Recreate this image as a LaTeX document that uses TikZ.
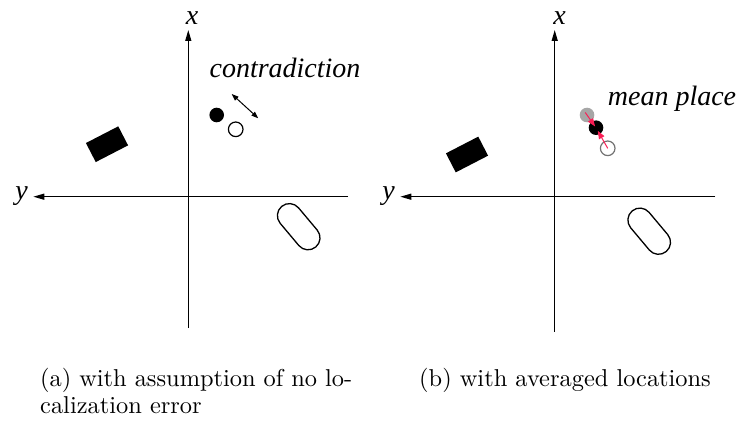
\documentclass[tikz,border=0pt]{standalone}
\usepackage{fontspec}
\newfontfamily\tmsi{Liberation Serif Italic}
\newfontfamily\capfont{lmroman10-regular.otf}
\usetikzlibrary{arrows.meta,shapes.misc,calc}
\definecolor{redpink}{RGB}{250,30,85}
\tikzset{
  axisline/.style={line width=1.3pt,-{Triangle[length=11pt,width=6pt]}},
  lbltext/.style={font=\tmsi\fontsize{28}{30}\selectfont,inner sep=0pt,anchor=base},
  dotnode/.style={circle,inner sep=0pt,minimum size=14.6pt},
  blkdot/.style={dotnode,fill=black},
  opndot/.style={dotnode,draw=black,line width=1.2pt,fill=white},
  blkbox/.style={rectangle,fill=black,inner sep=0pt,minimum width=36.4pt,minimum height=21.4pt,rotate=27.3},
  capsule/.style={rounded rectangle,draw,line width=1.3pt,inner sep=0pt,minimum width=53pt,minimum height=24pt,rotate=-50},
  captext/.style={font=\capfont\fontsize{24.4}{27.3}\selectfont,inner sep=0pt,anchor=base west},
  redarrow/.style={redpink,line width=1pt,-{Triangle[length=8pt,width=6pt]}}
}
\begin{document}
\begin{tikzpicture}[x=1pt,y=-1pt]
\useasboundingbox (0,0) rectangle (743,428);
% ---- left panel
\coordinate (LvB) at (188.3,328);
\coordinate (LvT) at (188.3,30);
\coordinate (LhR) at (348,196.7);
\coordinate (LhL) at (33.3,196.7);
\draw[axisline] (LvB) -- (LvT);
\draw[axisline] (LhR) -- (LhL);
\node[lbltext] (Lx) at (192,25) {x};
\node[lbltext] (Ly) at (21.5,199) {y};
\node[blkbox] (Lbox) at (107,144.2) {};
\node[capsule] (Lcaps) at (298.7,226.7) {};
\node[blkdot] (Lb) at (216.7,115) {};
\node[opndot] (Lo) at (235.7,129.3) {};
\coordinate (Da) at (231.7,94);
\coordinate (Db) at (258.3,118.3);
\draw[line width=1pt,{Triangle[length=7pt,width=5pt]}-{Triangle[length=7pt,width=5pt]}] (Da) -- (Db);
\node[lbltext] (Lt) at (285,77) {contradiction};
% ---- right panel
\coordinate (RvB) at (554.7,331.7);
\coordinate (RvT) at (554.7,30);
\coordinate (RhR) at (715.3,196.7);
\coordinate (RhL) at (400.3,196.7);
\draw[axisline] (RvB) -- (RvT);
\draw[axisline] (RhR) -- (RhL);
\node[lbltext] (Rx) at (559.5,25) {x};
\node[lbltext] (Ry) at (388.5,199) {y};
\node[blkbox] (Rbox) at (467,154.5) {};
\node[capsule] (Rcaps) at (649.2,231.2) {};
\node[dotnode,fill=black!35] (Rg) at (587,115) {};
\node[blkdot] (Rb) at (596,127.7) {};
\node[dotnode,draw=black!55,line width=1.2pt] (Ro) at (607.7,148.3) {};
\draw[redarrow] ($(Rg.center)!-0.2!(Rb.center)$) -- ($(Rg.center)!0.9!(Rb.center)$);
\draw[redarrow] (Ro.center) -- ($(Ro.center)!0.85!(Rb.center)$);
\node[lbltext] (Rt) at (672,105) {mean place};
% ---- captions
\node[captext] (Ca1) at (40,386) {\makebox[312pt][s]{(a) with assumption of no lo-}};
\node[captext] (Ca2) at (40,413.3) {calization error};
\node[captext] (Cb) at (419,386) {(b) with averaged locations};
\end{tikzpicture}
\end{document}
